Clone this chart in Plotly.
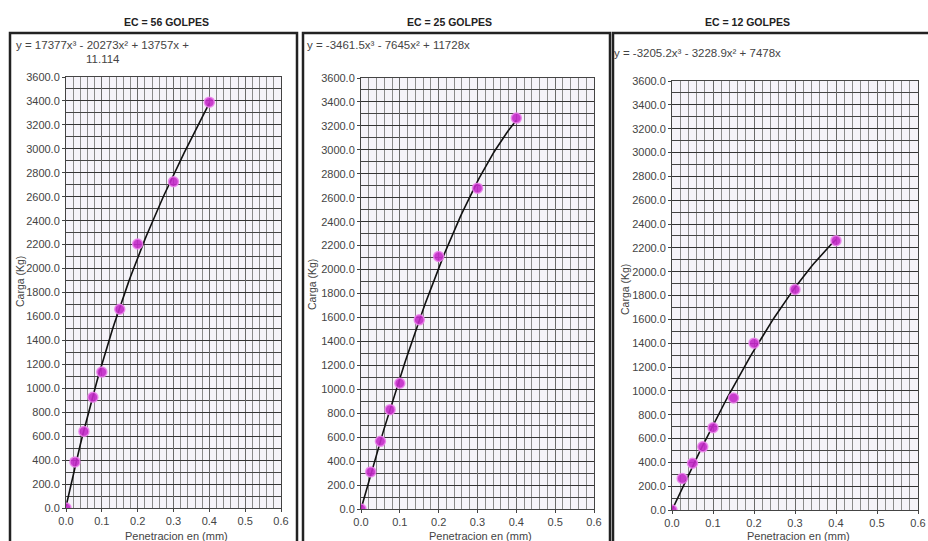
import numpy as np
import plotly.graph_objects as go

W, H = 928, 541

# ---- data ----
penetracion = [0.0, 0.025, 0.05, 0.075, 0.1, 0.15, 0.2, 0.3, 0.4]
carga_56 = [0, 385, 640, 925, 1135, 1660, 2205, 2725, 3390]
carga_25 = [0, 310, 565, 830, 1050, 1580, 2110, 2680, 3265]
carga_12 = [0, 265, 392, 530, 690, 940, 1400, 1850, 2260]

# trendline coefficients as displayed in the chart (x^3, x^2, x, c)
coef_56 = [17377, -20273, 13757, 11.114]
coef_25 = [-3461.5, -7645, 11728, 0]
coef_12 = [-3205.2, -3228.9, 7478, 0]

titles = ["EC = 56 GOLPES", "EC = 25 GOLPES", "EC = 12 GOLPES"]
equations = [
    "y = 17377x³ - 20273x² + 13757x +",
    "y = -3461.5x³ - 7645x² + 11728x",
    "y = -3205.2x³ - 3228.9x² + 7478x",
]
eq_extra = "11.114"
x_title = "Penetracion en (mm)"
y_title = "Carga (Kg)"

series = [carga_56, carga_25, carga_12]
coefs = [coef_56, coef_25, coef_12]

# ---- layout geometry (pixels) ----
plot_boxes = [  # x0, x1, ytop, ybottom
    (66, 281, 77, 508),
    (361, 594, 78, 509),
    (672, 918, 81, 510),
]
panel_boxes = [(10, 297), (303, 610), (613, 940)]
title_x = [166, 449, 747]
eq_pos = [(14, 45), (305, 45), (612, 53)]
ytitle_pos = [(20, 282), (312, 285), (625, 290)]

FONT = "Liberation Sans"
TXT = "#444444"

def px(x):
    return x / W

def py(y):
    return 1 - y / H

fig = go.Figure()

xfit = np.linspace(0, 0.4, 81)
for i, (yvals, c) in enumerate(zip(series, coefs)):
    ax = "" if i == 0 else str(i + 1)
    fig.add_trace(go.Scatter(
        x=xfit, y=np.polyval(c, xfit), mode="lines",
        line=dict(color="#111111", width=1.6),
        xaxis="x" + ax, yaxis="y" + ax, hoverinfo="skip"))
    fig.add_trace(go.Scatter(
        x=penetracion, y=yvals, mode="markers",
        marker=dict(symbol="circle", size=10, color="rgba(195,40,200,0.9)",
                    line=dict(color="rgba(235,130,235,0.85)", width=1.5)),
        xaxis="x" + ax, yaxis="y" + ax))

layout = dict(
    width=W, height=H, margin=dict(l=0, r=0, t=0, b=0),
    paper_bgcolor="white", plot_bgcolor="#f5f3f9", showlegend=False,
    font=dict(family=FONT, size=11, color=TXT),
)

for i, (x0, x1, yt, yb) in enumerate(plot_boxes):
    ax = "" if i == 0 else str(i + 1)
    layout["xaxis" + ax] = dict(
        domain=[px(x0), px(x1)], anchor="y" + ax, range=[0, 0.6],
        dtick=0.1, tick0=0, tickformat=".1f",
        showgrid=True, gridcolor="#6a6a6a", gridwidth=1,
        minor=dict(dtick=0.02, showgrid=True, gridcolor="#8a8a8a", gridwidth=1),
        showline=True, linecolor="#444444", linewidth=1, mirror=True,
        ticks="outside", ticklen=3, tickcolor="#444444",
        zeroline=False, tickfont=dict(size=11, color=TXT, family=FONT),
        ticklabeloverflow="allow",
        automargin=False, fixedrange=True)
    layout["yaxis" + ax] = dict(
        domain=[py(yb), py(yt)], anchor="x" + ax, range=[0, 3600],
        dtick=200, tick0=0, tickformat=".1f",
        showgrid=True, gridcolor="#333333", gridwidth=1,
        minor=dict(dtick=100, showgrid=True, gridcolor="#444444", gridwidth=1),
        showline=True, linecolor="#444444", linewidth=1, mirror=True,
        ticks="outside", ticklen=3, tickcolor="#444444",
        zeroline=False, tickfont=dict(size=11, color=TXT, family=FONT),
        automargin=False, fixedrange=True)

fig.update_layout(**layout)

shapes = []
for (bx0, bx1) in panel_boxes:
    shapes.append(dict(type="rect", xref="paper", yref="paper",
                       x0=px(bx0), x1=px(bx1), y0=py(560), y1=py(33),
                       line=dict(color="#222222", width=2.5), fillcolor="rgba(0,0,0,0)",
                       layer="above"))
fig.update_layout(shapes=shapes)

ann = []
for i in range(3):
    ann.append(dict(text="<b>" + titles[i] + "</b>", x=px(title_x[i]), y=py(22),
                    xref="paper", yref="paper", showarrow=False,
                    xanchor="center", yanchor="middle",
                    font=dict(size=10.5, color="#222222", family=FONT)))
    ex, ey = eq_pos[i]
    ann.append(dict(text=equations[i], x=px(ex), y=py(ey), xref="paper", yref="paper",
                    showarrow=False, xanchor="left", yanchor="middle",
                    font=dict(size=11.5, color=TXT, family=FONT)))
    tx, ty = ytitle_pos[i]
    ann.append(dict(text=y_title, x=px(tx), y=py(ty), xref="paper", yref="paper",
                    showarrow=False, textangle=-90, xanchor="center", yanchor="middle",
                    font=dict(size=10.5, color=TXT, family=FONT)))
    x0, x1, yt, yb = plot_boxes[i]
    ann.append(dict(text=x_title, x=px((x0 + x1) / 2 + 3), y=py(536), xref="paper",
                    yref="paper", showarrow=False, xanchor="center", yanchor="middle",
                    font=dict(size=11, color=TXT, family=FONT)))
ann.append(dict(text=eq_extra, x=px(103), y=py(59), xref="paper", yref="paper",
                showarrow=False, xanchor="center", yanchor="middle",
                font=dict(size=11.5, color=TXT, family=FONT)))
fig.update_layout(annotations=ann)

fig.write_html(
    "out.html",
    config={"displayModeBar": False},
    post_script="document.body.style.margin='0';document.body.style.overflow='hidden';",
)
